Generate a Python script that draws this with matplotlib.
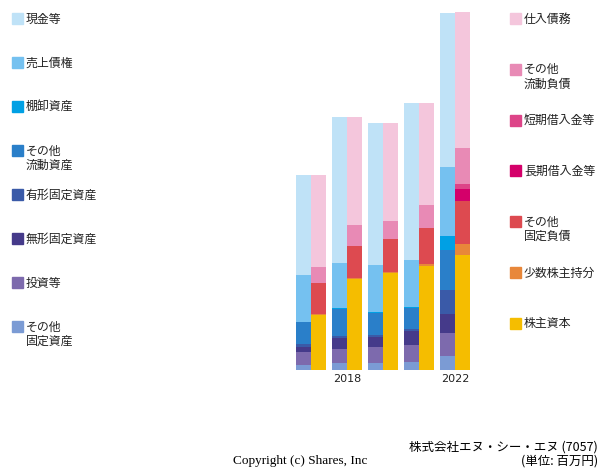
import matplotlib
matplotlib.use("Agg")
import numpy as np
import matplotlib.pyplot as plt
from matplotlib.patches import Rectangle

# tick labels (only two are shown on the reference)
year_labels = ["", "2018", "", "", "2022"]

# assets, bottom to top (arbitrary units)
asset_names = ["その他\n固定資産", "投資等", "無形固定資産", "有形固定資産",
               "その他\n流動資産", "棚卸資産", "売上債権", "現金等"]
other_fixed_assets = [5.0, 6.7, 7.3, 8.0, 14.0]
investments = [12.7, 14.3, 16.0, 17.0, 22.7]
intangible = [5.7, 11.3, 10.0, 14.3, 19.7]
tangible = [2.7, 1.7, 1.7, 1.3, 23.7]
other_current_assets = [21.7, 26.7, 22.3, 21.0, 39.7]
inventory = [0.7, 1.0, 1.0, 1.0, 14.3]
receivables = [46.7, 45.7, 46.7, 47.0, 69.3]
cash = [100.0, 145.3, 142.0, 157.3, 154.0]

# liabilities + equity, bottom to top
liab_names = ["株主資本", "少数株主持分", "その他\n固定負債", "長期借入金等",
              "短期借入金等", "その他\n流動負債", "仕入債務"]
equity = [55.0, 90.7, 96.7, 104.0, 114.7]
minority = [1.0, 1.0, 1.7, 2.0, 11.3]
other_fixed_liab = [30.7, 32.7, 33.0, 36.0, 43.0]
long_loans = [0.0, 0.0, 0.0, 0.0, 12.0]
short_loans = [0.0, 0.0, 0.0, 0.0, 5.0]
other_current_liab = [16.7, 20.7, 17.7, 23.0, 36.0]
payables = [91.7, 107.7, 97.7, 101.7, 136.0]

assets = [other_fixed_assets, investments, intangible, tangible,
          other_current_assets, inventory, receivables, cash]
asset_colors = ["#7b9bd4", "#7d6aad", "#453a8a", "#3a5aa8",
                "#2a7fc9", "#00a0e4", "#75c1f0", "#bfe2f7"]
liabs = [equity, minority, other_fixed_liab, long_loans,
         short_loans, other_current_liab, payables]
liab_colors = ["#f5bd00", "#e8873a", "#dd4a50", "#d4006a",
               "#dd4488", "#e88ab5", "#f4c6dc"]

jp = ["Noto Sans CJK JP", "DejaVu Sans"]

fig = plt.figure(figsize=(6, 4.7), dpi=100)
ax = fig.add_axes([290 / 600, 100 / 470, 186 / 600, 358 / 470])

x = np.arange(len(year_labels))
w = 15 / 36
bottom = np.zeros(len(x))
for vals, col in zip(assets, asset_colors):
    ax.bar(x - w / 2, vals, w, bottom=bottom, color=col, linewidth=0)
    bottom += np.array(vals)
bottom = np.zeros(len(x))
for vals, col in zip(liabs, liab_colors):
    ax.bar(x + w / 2, vals, w, bottom=bottom, color=col, linewidth=0)
    bottom += np.array(vals)

ax.set_xlim(-0.583, 4.583)
ax.set_ylim(0, 358)
for s in ax.spines.values():
    s.set_visible(False)
ax.set_yticks([])
ax.set_xticks(x)
ax.set_xticklabels(year_labels, fontsize=8, color="#222222")
ax.tick_params(axis="x", length=0, pad=3)

# legends drawn in pixel coords
def legend_item(px, py, label, col):
    fig.patches.append(Rectangle((px / 600, 1 - (py + 5) / 470), 11 / 600, 11 / 470,
                                 color=col, transform=fig.transFigure))
    fig.text((px + 14) / 600, 1 - (py - 6.5) / 470, label, fontsize=8.6, va="top",
             ha="left", family=jp, linespacing=1.15, color="#222222")

left_order = list(zip(asset_names, asset_colors))[::-1]
for i, (name, col) in enumerate(left_order):
    legend_item(12, 19 + 44 * i, name, col)

right_order = list(zip(liab_names, liab_colors))[::-1]
for i, (name, col) in enumerate(right_order):
    legend_item(510, 19 + 50.8 * i, name, col)

fig.text(300 / 600, 1 - 461 / 470, "Copyright (c) Shares, Inc", fontsize=9.5,
         ha="center", va="center", family="Liberation Serif")
fig.text(598 / 600, 1 - 447 / 470, "株式会社エヌ・シー・エヌ (7057)", fontsize=9,
         ha="right", va="center", family=jp)
fig.text(598 / 600, 1 - 461 / 470, "(単位: 百万円)", fontsize=9,
         ha="right", va="center", family=jp)

fig.savefig("out.png", dpi=100)
plt.close(fig)
